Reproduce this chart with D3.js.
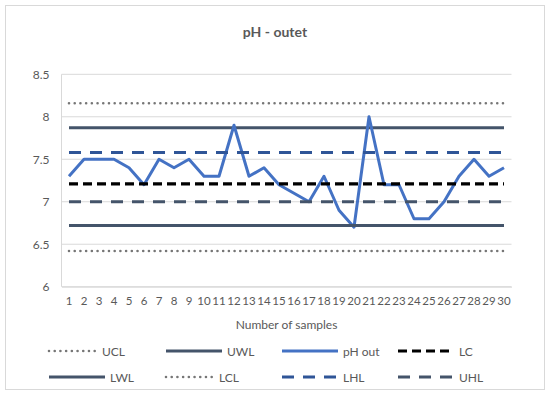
<!DOCTYPE html>
<html>
<head>
<meta charset="utf-8">
<script src="https://cdn.jsdelivr.net/npm/d3@7"></script>
<style>
  body { margin: 0; background: #fff; }
  text { font-family: Lato, "Open Sans", sans-serif; fill: #595959; }
</style>
</head>
<body>
<svg id="chart" width="550" height="395"></svg>
<script>
// ---- data ----
const samples = ["1","2","3","4","5","6","7","8","9","10","11","12","13","14","15","16","17","18","19","20","21","22","23","24","25","26","27","28","29","30"];
const phOut = [7.3,7.5,7.5,7.5,7.4,7.2,7.5,7.4,7.5,7.3,7.3,7.9,7.3,7.4,7.2,7.1,7.0,7.3,6.9,6.7,8.0,7.2,7.2,6.8,6.8,7.0,7.3,7.5,7.3,7.4];
const seriesNames = ["UCL","UWL","pH out","LC","LWL","LCL","LHL","UHL"];
const limitValues = {UCL: 8.16, UWL: 7.87, LC: 7.21, LWL: 6.72, LCL: 6.42, LHL: 7.58, UHL: 7.0};
const yTicks = [6, 6.5, 7, 7.5, 8, 8.5];
const title = "pH - outet";
const xTitle = "Number of samples";

// ---- styles ----
const styles = {
  "UCL":   {color: "#767676", width: 2.6, dash: "0.01 5.7", cap: "round", legLen: 48},
  "UWL":   {color: "#44546A", width: 3,   dash: null, cap: "butt", legLen: 56},
  "pH out":{color: "#4472C4", width: 3,   dash: null, cap: "butt", legLen: 56},
  "LC":    {color: "#000000", width: 3.2, dash: "9 5", cap: "butt", legLen: 56},
  "LWL":   {color: "#44546A", width: 3,   dash: null, cap: "butt", legLen: 56},
  "LCL":   {color: "#767676", width: 2.6, dash: "0.01 5.7", cap: "round", legLen: 48},
  "LHL":   {color: "#2F5597", width: 3,   dash: "12 9", cap: "butt", legLen: 56},
  "UHL":   {color: "#44546A", width: 3,   dash: "12 9", cap: "butt", legLen: 56}
};

const svg = d3.select("#chart");

// outer border
svg.append("rect").attr("x", 5.5).attr("y", 5.5).attr("width", 539).attr("height", 384)
  .attr("fill", "#fff").attr("stroke", "#D9D9D9").attr("stroke-width", 1);

const x = d3.scaleBand().domain(samples).range([61.5, 511.5]);
const y = d3.scaleLinear().domain([6, 8.5]).range([286.7, 74.3]);
const cx = d => x(d) + x.bandwidth() / 2;

// gridlines
svg.append("g").selectAll("line").data(yTicks).join("line")
  .attr("x1", 61.5).attr("x2", 511.5)
  .attr("y1", d => y(d)).attr("y2", d => y(d))
  .attr("stroke", "#D9D9D9").attr("stroke-width", 1);

// left axis line
svg.append("line").attr("x1", 61.5).attr("x2", 61.5).attr("y1", y(8.5)).attr("y2", y(6))
  .attr("stroke", "#D9D9D9").attr("stroke-width", 1);

// y axis labels
const yAxis = d3.axisLeft(y).tickValues(yTicks).tickSize(0).tickPadding(12).tickFormat(d3.format(""));
const gy = svg.append("g").attr("transform", "translate(61.5,0)").call(yAxis);
gy.select(".domain").remove();
gy.selectAll("text").style("font-size", "12px").style("font-family", "Lato, sans-serif").attr("fill", "#595959");

// x axis labels
const xAxis = d3.axisBottom(x).tickSize(0).tickPadding(10);
const gx = svg.append("g").attr("transform", `translate(0,${y(6)})`).call(xAxis);
gx.select(".domain").attr("stroke", "#D9D9D9");
gx.selectAll("text").style("font-size", "11.5px").style("font-family", "Lato, sans-serif").attr("fill", "#595959");

// series
const line = d3.line().x(d => cx(d[0])).y(d => y(d[1]));
seriesNames.forEach(name => {
  const st = styles[name];
  let pts;
  if (name === "pH out") pts = samples.map((s, i) => [s, phOut[i]]);
  else pts = [[samples[0], limitValues[name]], [samples[samples.length - 1], limitValues[name]]];
  const p = svg.append("path").attr("d", line(pts)).attr("fill", "none")
    .attr("stroke", st.color).attr("stroke-width", st.width)
    .attr("stroke-linecap", st.cap).attr("stroke-linejoin", "round");
  if (st.dash) p.attr("stroke-dasharray", st.dash);
});

// title
svg.append("text").attr("x", 275).attr("y", 37).attr("text-anchor", "middle")
  .style("font-size", "14px").style("font-weight", "bold").text(title);

// x title
svg.append("text").attr("x", 286.5).attr("y", 329).attr("text-anchor", "middle")
  .style("font-size", "12px").text(xTitle);

// legend
const legCols = [49, 166, 282, 398];
const legRows = [351, 377];
seriesNames.forEach((name, i) => {
  const st = styles[name];
  const lx = legCols[i % 4], ly = legRows[Math.floor(i / 4)];
  const l = svg.append("line").attr("x1", lx).attr("x2", lx + st.legLen).attr("y1", ly).attr("y2", ly)
    .attr("stroke", st.color).attr("stroke-width", st.width).attr("stroke-linecap", st.cap);
  if (st.dash) l.attr("stroke-dasharray", st.dash);
  svg.append("text").attr("x", lx + st.legLen + 5).attr("y", ly + 4.5)
    .style("font-size", "12px").text(name);
});
</script>
</body>
</html>
